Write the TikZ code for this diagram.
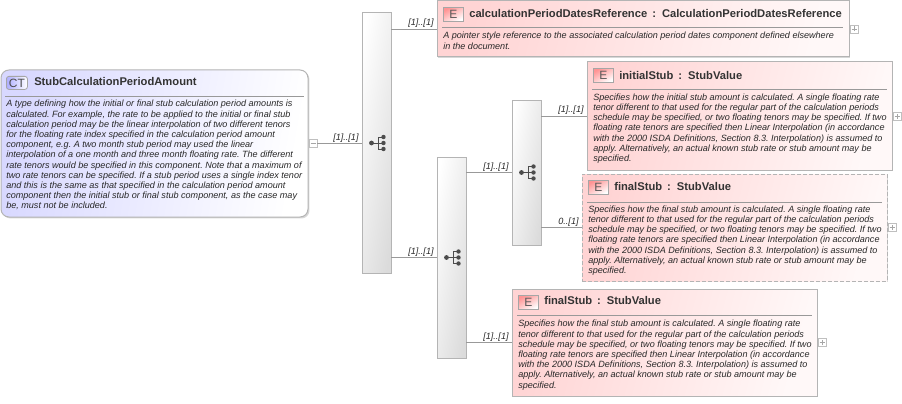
\documentclass[tikz,border=0pt]{standalone}
\usepackage{fontspec}
\setmainfont{Liberation Sans}
\usetikzlibrary{calc,shadows}

\definecolor{edge}{RGB}{180,180,180}
\definecolor{ink}{RGB}{40,40,40}
\definecolor{pinkfill}{RGB}{255,212,212}
\definecolor{palepink}{RGB}{255,248,248}
\definecolor{bluefill}{RGB}{216,216,255}
\def\px{0.75pt}

\tikzset{
  softshadow/.style={drop shadow={shadow xshift=1.1pt,shadow yshift=-1.1pt,fill=black!35,opacity=.45}},
  box/.style={draw=edge,line width=1*\px,inner sep=0pt,outer sep=0pt,anchor=north west,softshadow},
  elembox/.style={box,left color=pinkfill,right color=palepink,shading angle=75},
  seqbox/.style={box,left color=white,right color=black!14,minimum width=29*\px,shading angle=80},
  badge/.style={draw=black!35,line width=.8*\px,inner sep=0pt,anchor=north west,minimum width=20*\px,minimum height=14*\px,
    left color=pinkfill!70!red,right color=white,shading angle=30,text=black!65,font=\fontsize{9pt}{10pt}\selectfont},
  title/.style={anchor=west,inner sep=0pt,text=black!80,font=\fontsize{8.4pt}{10pt}\bfseries\selectfont},
  descr/.style={anchor=north west,inner sep=0pt,align=left,text=ink,font=\frenchspacing\fontsize{6.8pt}{7.65pt}\itshape\selectfont},
  conn/.style={draw=black!40,line width=.9*\px},
  occurs/.style={pos=1,anchor=south east,xshift=-3*\px,yshift=1*\px,inner sep=0pt,text=ink,font=\fontsize{6.8pt}{7.65pt}\itshape\selectfont},
  togglebox/.style={draw=black!25,line width=.7*\px,fill=white,inner sep=0pt,outer sep=0pt,anchor=west,xshift=1*\px,minimum width=8*\px,minimum height=8*\px},
  plusbox/.style={togglebox,path picture={\draw[black!35,line width=.7*\px] ([xshift=-2.5*\px]path picture bounding box.center) -- ([xshift=2.5*\px]path picture bounding box.center);
    \draw[black!35,line width=.7*\px] ([yshift=-2.5*\px]path picture bounding box.center) -- ([yshift=2.5*\px]path picture bounding box.center);}},
  minusbox/.style={togglebox,path picture={\draw[black!35,line width=.7*\px] ([xshift=-2.5*\px]path picture bounding box.center) -- ([xshift=2.5*\px]path picture bounding box.center);}},
}

% sequence symbol, centred on the given point
\newcommand{\seqicon}[1]{
  \begin{scope}[shift={(#1)}]
    \draw[black!70,line width=1*\px] (-5,0) -- (7,0) (1.5,-6) -- (1.5,6) (1.5,-6) -- (7,-6) (1.5,6) -- (7,6);
    \fill[black!70] (-5,0) circle (2.4*\px) (7,-6) circle (2.2*\px) (7,0) circle (2.2*\px) (7,6) circle (2.2*\px);
  \end{scope}
}

\begin{document}
\begin{tikzpicture}[x=0.75pt,y=-0.75pt]
\useasboundingbox (0,0) rectangle (902,403);

% complex type
\node[box,rounded corners=8*\px,left color=bluefill,right color=white,shading angle=80,minimum width=307*\px,minimum height=147*\px] (stubtype) at (1,70) {};
\node[badge,rounded corners=2.5*\px,minimum width=21*\px,minimum height=13*\px,left color=bluefill!80!blue,right color=white,text=black!70] (ctbadge) at (6,76) {CT};
\node[title] (cttitle) at (34,81) {StubCalculationPeriodAmount};
\draw[conn] (5,96) -- (304,96);
\node[descr] (ctdescr) at (6,100) {A type defining how the initial or final stub calculation period amounts is\\
calculated. For example, the rate to be applied to the initial or final stub\\
calculation period may be the linear interpolation of two different tenors\\
for the floating rate index specified in the calculation period amount\\
component, e.g. A two month stub period may used the linear\\
interpolation of a one month and three month floating rate. The different\\
rate tenors would be specified in this component. Note that a maximum of\\
two rate tenors can be specified. If a stub period uses a single index tenor\\
and this is the same as that specified in the calculation period amount\\
component then the initial stub or final stub component, as the case may\\
be, must not be included.};
\node[minusbox] (ctminus) at (stubtype.east) {};

% sequence boxes
\node[seqbox,minimum height=260*\px] (seqone) at (362,13) {};
\node[seqbox,minimum height=201*\px] (seqtwo) at (437,157) {};
\node[seqbox,minimum height=145*\px] (seqthree) at (512,100) {};
\seqicon{seqone.center}
\seqicon{seqtwo.center}
\seqicon{seqthree.center}

% calculationPeriodDatesReference
\node[elembox,minimum width=412*\px,minimum height=56*\px] (datesref) at (437,1) {};
\node[badge] (datesbadge) at (443,7) {E};
\node[title] (datestitle) at (469,13.5) {calculationPeriodDatesReference\, :\, CalculationPeriodDatesReference};
\draw[conn] (442,27) -- (843,27);
\node[descr] (datesdescr) at (443,32) {A pointer style reference to the associated calculation period dates component defined elsewhere\\
in the document.};
\node[plusbox] (datesplus) at (datesref.east) {};

% initialStub
\node[elembox,minimum width=305*\px,minimum height=108*\px] (initstub) at (587,62) {};
\node[badge] (initbadge) at (593,68) {E};
\node[title] (inittitle) at (619,75) {initialStub\, :\, StubValue};
\draw[conn] (592,89) -- (887,89);
\node[descr] (initdescr) at (593,93.5) {Specifies how the initial stub amount is calculated. A single floating rate\\
tenor different to that used for the regular part of the calculation periods\\
schedule may be specified, or two floating tenors may be specified. If two\\
floating rate tenors are specified then Linear Interpolation (in accordance\\
with the 2000 ISDA Definitions, Section 8.3. Interpolation) is assumed to\\
apply. Alternatively, an actual known stub rate or stub amount may be\\
specified.};
\node[plusbox] (initplus) at (initstub.east) {};

% optional finalStub
\node[elembox,dash pattern=on 4*\px off 2*\px,minimum width=305*\px,minimum height=107*\px] (finalopt) at (582,174) {};
\node[badge] (optbadge) at (588,180) {E};
\node[title] (opttitle) at (614,186) {finalStub\, :\, StubValue};
\draw[conn] (587,202) -- (882,202);
\node[descr] (optdescr) at (588,205.5) {Specifies how the final stub amount is calculated. A single floating rate\\
tenor different to that used for the regular part of the calculation periods\\
schedule may be specified, or two floating tenors may be specified. If two\\
floating rate tenors are specified then Linear Interpolation (in accordance\\
with the 2000 ISDA Definitions, Section 8.3. Interpolation) is assumed to\\
apply. Alternatively, an actual known stub rate or stub amount may be\\
specified.};
\node[plusbox] (optplus) at (finalopt.east) {};

% finalStub
\node[elembox,minimum width=305*\px,minimum height=107*\px] (finalreq) at (512,289) {};
\node[badge] (reqbadge) at (518,295) {E};
\node[title] (reqtitle) at (544,300) {finalStub\, :\, StubValue};
\draw[conn] (517,315) -- (812,315);
\node[descr] (reqdescr) at (518,320) {Specifies how the final stub amount is calculated. A single floating rate\\
tenor different to that used for the regular part of the calculation periods\\
schedule may be specified, or two floating tenors may be specified. If two\\
floating rate tenors are specified then Linear Interpolation (in accordance\\
with the 2000 ISDA Definitions, Section 8.3. Interpolation) is assumed to\\
apply. Alternatively, an actual known stub rate or stub amount may be\\
specified.};
\node[plusbox] (reqplus) at (finalreq.east) {};

% connectors
\draw[conn] (ctminus.east) -- node[occurs] (occa) {[1]..[1]} (ctminus.east -| seqone.west);
\draw[conn] (seqone.east |- datesref.west) -- node[occurs] (occb) {[1]..[1]} (datesref.west);
\draw[conn] (seqone.east |- seqtwo.west) -- node[occurs] (occc) {[1]..[1]} (seqtwo.west);
\draw[conn] (seqtwo.east |- seqthree.west) -- node[occurs] (occd) {[1]..[1]} (seqthree.west);
\draw[conn] (seqtwo.east |- finalreq.west) -- node[occurs] (occe) {[1]..[1]} (finalreq.west);
\draw[conn] (seqthree.east |- initstub.west) -- node[occurs] (occf) {[1]..[1]} (initstub.west);
\draw[conn] (seqthree.east |- finalopt.west) -- node[occurs] (occg) {0..[1]} (finalopt.west);

\end{tikzpicture}
\end{document}
